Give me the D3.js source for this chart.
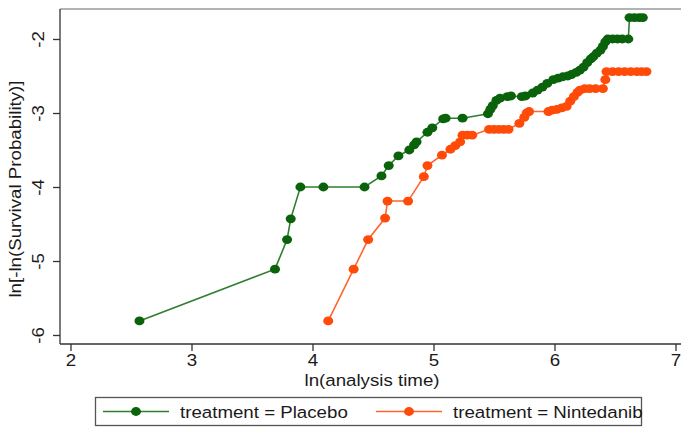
<!DOCTYPE html>
<html lang="en">
<head>
<meta charset="UTF-8">
<title>ln-ln survival plot</title>
<script src="https://d3js.org/d3.v7.min.js"></script>
<style>
  body { margin: 0; background: #fff; }
  svg text { font-family: "Liberation Sans", Arial, sans-serif; fill: #1a1a1a; }
  .axis path, .axis line { stroke: #333; stroke-width: 1.3px; }
</style>
</head>
<body>
<div id="chart"></div>
<script>
  // series
  const seriesNames = ["treatment = Placebo", "treatment = Nintedanib"];
  const placeboX = [2.57, 3.69, 3.79, 3.82, 3.90, 4.09, 4.43, 4.57, 4.63, 4.71, 4.80, 4.84, 4.86, 4.95, 4.99,
    5.08, 5.10, 5.24, 5.45, 5.47, 5.49, 5.52, 5.55, 5.61, 5.64, 5.73, 5.76, 5.82, 5.86, 5.90, 5.94, 5.99,
    6.03, 6.07, 6.11, 6.14, 6.18, 6.21, 6.24, 6.27, 6.30, 6.32, 6.35, 6.38, 6.40, 6.42, 6.44, 6.48, 6.52,
    6.56, 6.61, 6.62, 6.66, 6.70, 6.73];
  const placeboY = [-5.81, -5.11, -4.71, -4.43, -4.00, -4.00, -4.00, -3.85, -3.71, -3.58, -3.50, -3.43, -3.39, -3.26, -3.20,
    -3.08, -3.07, -3.07, -3.01, -2.95, -2.90, -2.83, -2.80, -2.78, -2.77, -2.78, -2.77, -2.73, -2.69, -2.65, -2.60, -2.55,
    -2.53, -2.51, -2.50, -2.48, -2.45, -2.42, -2.38, -2.32, -2.27, -2.24, -2.19, -2.15, -2.10, -2.04, -2.00, -2.00, -2.00,
    -2.00, -2.00, -1.71, -1.71, -1.71, -1.71];
  const nintedanibX = [4.13, 4.34, 4.46, 4.60, 4.62, 4.79, 4.92, 4.95, 5.07, 5.14, 5.18, 5.22, 5.24, 5.28, 5.32,
    5.46, 5.50, 5.54, 5.58, 5.62, 5.71, 5.75, 5.77, 5.79, 5.95, 5.98, 6.02, 6.06, 6.10, 6.13, 6.16, 6.19,
    6.21, 6.25, 6.29, 6.34, 6.40, 6.42, 6.43, 6.48, 6.53, 6.58, 6.63, 6.68, 6.72, 6.76];
  const nintedanibY = [-5.81, -5.11, -4.71, -4.42, -4.19, -4.19, -3.86, -3.71, -3.57, -3.49, -3.44, -3.39, -3.30, -3.30, -3.30,
    -3.22, -3.22, -3.22, -3.22, -3.22, -3.14, -3.06, -3.00, -2.98, -2.98, -2.96, -2.95, -2.93, -2.91, -2.84, -2.78, -2.72,
    -2.69, -2.67, -2.67, -2.67, -2.67, -2.55, -2.44, -2.44, -2.44, -2.44, -2.44, -2.44, -2.44, -2.44];
  const xTicks = [2, 3, 4, 5, 6, 7];
  const yTicks = [-2, -3, -4, -5, -6];

  const width = 681, height = 430;
  const svg = d3.select("#chart").append("svg")
    .attr("width", width).attr("height", height);

  const x = d3.scaleLinear().domain([2, 7]).range([70.5, 675.5]);
  const y = d3.scaleLinear().domain([-6, -2]).range([335, 39]);

  const plotTop = 9, plotBottom = 344, plotLeft = 60;
  const fs = 17, sx = 1.1; // the original is a bit stretched sideways

  // frame top (grey)
  svg.append("line")
    .attr("x1", plotLeft).attr("x2", width)
    .attr("y1", plotTop).attr("y2", plotTop)
    .attr("stroke", "#9a9a9a").attr("stroke-width", 1.5);

  // axes
  const xAxis = svg.append("g").attr("class", "axis")
    .attr("transform", `translate(0,${plotBottom})`)
    .call(d3.axisBottom(x).tickValues(xTicks).tickSize(7).tickSizeOuter(0).tickFormat(d => String(d)));
  xAxis.select(".domain").attr("d", `M${plotLeft},0H${width}`);
  xAxis.selectAll("text")
    .attr("font-size", fs).attr("y", 0).attr("dy", 0)
    .attr("transform", `translate(0,22) scale(${sx},1)`);

  const yAxis = svg.append("g").attr("class", "axis")
    .attr("transform", `translate(${plotLeft},0)`)
    .call(d3.axisLeft(y).tickValues(yTicks).tickSize(7).tickSizeOuter(0).tickFormat(d => String(d)));
  yAxis.select(".domain").attr("d", `M0,${plotTop}V${plotBottom}`);
  yAxis.selectAll("text")
    .attr("font-size", fs)
    .attr("text-anchor", "middle")
    .attr("x", 0).attr("y", 0).attr("dy", 0)
    .attr("transform", `translate(-16,0) rotate(-90) scale(${sx},1)`);

  svg.append("text")
    .attr("transform", `translate(372,386) scale(${sx},1)`)
    .attr("text-anchor", "middle").attr("font-size", fs)
    .text("ln(analysis time)");

  svg.append("text")
    .attr("transform", `translate(21,189) rotate(-90) scale(${sx},1)`)
    .attr("text-anchor", "middle").attr("font-size", fs)
    .text("ln[-ln(Survival Probability)]");

  // series
  const series = [
    { name: seriesNames[0], xs: placeboX, ys: placeboY, line: "#2f7f2f", dot: "#0a620a" },
    { name: seriesNames[1], xs: nintedanibX, ys: nintedanibY, line: "#ff6630", dot: "#ff4a08" }
  ];

  const line = d3.line().x(d => x(d[0])).y(d => y(d[1]));

  series.forEach(s => {
    const pts = s.xs.map((v, i) => [v, s.ys[i]]);
    svg.append("path")
      .datum(pts)
      .attr("fill", "none")
      .attr("stroke", s.line)
      .attr("stroke-width", 1.6)
      .attr("d", line);
    svg.append("g").selectAll("ellipse")
      .data(pts).enter().append("ellipse")
      .attr("cx", d => x(d[0])).attr("cy", d => y(d[1]))
      .attr("rx", 5).attr("ry", 4.4)
      .attr("fill", s.dot);
  });

  // legend
  const lg = svg.append("g");
  lg.append("rect")
    .attr("x", 95.5).attr("y", 397.5).attr("width", 546).attr("height", 28)
    .attr("fill", "#fff").attr("stroke", "#555").attr("stroke-width", 1.3);
  const legendX = [103, 376];
  series.forEach((s, i) => {
    const g = lg.append("g").attr("transform", `translate(${legendX[i]},411.5)`);
    g.append("line").attr("x1", 0).attr("x2", 66)
      .attr("stroke", s.line).attr("stroke-width", 1.6);
    g.append("ellipse").attr("cx", 33).attr("cy", 0).attr("rx", 5).attr("ry", 4.4).attr("fill", s.dot);
    g.append("text").attr("transform", `translate(77,6) scale(${sx},1)`)
      .attr("font-size", fs).text(s.name);
  });
</script>
</body>
</html>
